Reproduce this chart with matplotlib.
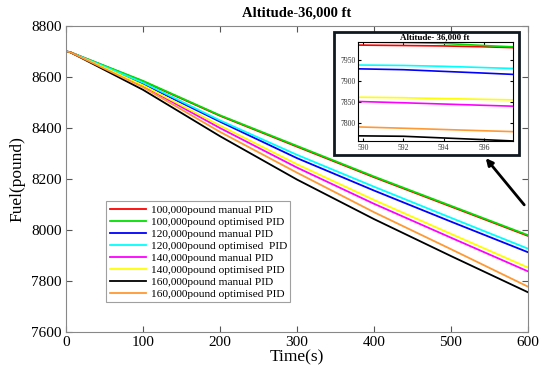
import matplotlib
matplotlib.use("Agg")
import matplotlib.pyplot as plt
from matplotlib.patches import Rectangle, FancyArrowPatch

plt.rcParams["font.family"] = ["Liberation Serif", "DejaVu Serif"]

# main plot data (fuel in pound vs time in s)
time_s = [0, 5, 100, 200, 300, 400, 500, 600]
fuel_100_manual = [8700, 8698, 8583, 8448, 8327, 8207, 8092, 7977]
fuel_100_opt = [8700, 8698, 8585, 8450, 8330, 8210, 8095, 7980]
fuel_120_manual = [8700, 8698, 8573, 8425, 8282, 8155, 8033, 7913]
fuel_120_opt = [8700, 8698, 8578, 8430, 8295, 8170, 8048, 7927]
fuel_140_manual = [8700, 8698, 8565, 8400, 8245, 8103, 7970, 7838]
fuel_140_opt = [8700, 8698, 8568, 8410, 8258, 8118, 7985, 7853]
fuel_160_manual = [8700, 8698, 8550, 8368, 8198, 8043, 7898, 7756]
fuel_160_opt = [8700, 8698, 8560, 8385, 8225, 8070, 7925, 7778]

# zoomed inset data
time_zoom = [589.8, 592, 594, 596, 597.4]
zoom_100_manual = [7984, 7983, 7982, 7980, 7978]
zoom_100_opt = [7991, 7990, 7988, 7983, 7980]
zoom_120_manual = [7928, 7926, 7922, 7918, 7915]
zoom_120_opt = [7937, 7936, 7934, 7931, 7929]
zoom_140_manual = [7851, 7848, 7845, 7842, 7840]
zoom_140_opt = [7861, 7860, 7858, 7856, 7855]
zoom_160_manual = [7770, 7769, 7765, 7761, 7758]
zoom_160_opt = [7791, 7788, 7785, 7782, 7780]

labels = [
    "100,000pound manual PID",
    "100,000pound optimised PID",
    "120,000pound manual PID",
    "120,000pound optimised  PID",
    "140,000pound manual PID",
    "140,000pound optimised PID",
    "160,000pound manual PID",
    "160,000pound optimised PID",
]
colors = ["#ff0000", "#00e000", "#0000ff", "#00ffff",
          "#ff00ff", "#ffff00", "#000000", "#ff9933"]

main_series = [fuel_100_manual, fuel_100_opt, fuel_120_manual, fuel_120_opt,
               fuel_140_manual, fuel_140_opt, fuel_160_manual, fuel_160_opt]
zoom_series = [zoom_100_manual, zoom_100_opt, zoom_120_manual, zoom_120_opt,
               zoom_140_manual, zoom_140_opt, zoom_160_manual, zoom_160_opt]

fig = plt.figure(figsize=(5.5, 3.83), dpi=100)
ax = fig.add_axes([0.12, 0.133, 0.84, 0.799])

for y, lab, c in zip(main_series, labels, colors):
    ax.plot(time_s, y, color=c, lw=1.3, label=lab)

ax.set_xlim(0, 600)
ax.set_ylim(7600, 8800)
ax.set_xticks([0, 100, 200, 300, 400, 500, 600])
ax.set_yticks([7600, 7800, 8000, 8200, 8400, 8600, 8800])
ax.tick_params(direction="in", top=True, right=True, labelsize=11,
               color="#555555", length=4, pad=3)
for sp in ax.spines.values():
    sp.set_color("#888888")
ax.set_xlabel("Time(s)", fontsize=12.5, labelpad=0)
ax.set_ylabel("Fuel(pound)", fontsize=12.5, labelpad=4)
ax.set_title("Altitude-36,000 ft", fontsize=10.5, fontweight="bold", pad=7)

leg = ax.legend(loc="upper left", bbox_to_anchor=(0.087, 0.427), fontsize=8.2,
                frameon=True, fancybox=False, handlelength=3.2,
                handletextpad=0.4, borderpad=0.3, labelspacing=0.18,
                borderaxespad=0)
leg.get_frame().set_edgecolor("#888888")
leg.get_frame().set_linewidth(0.8)

# inset frame and zoomed axes
fig.patches.append(Rectangle((0.607, 0.595), 0.336, 0.321, transform=fig.transFigure,
                             facecolor="white", edgecolor="#101820", lw=2, zorder=3))
ins = fig.add_axes([0.651, 0.632, 0.282, 0.258], zorder=4)
for y, c in zip(zoom_series, colors):
    ins.plot(time_zoom, y, color=c, lw=1.2)
ins.set_xlim(589.75, 597.44)
ins.set_ylim(7758, 7991)
ins.set_xticks([590, 592, 594, 596])
ins.set_yticks([7800, 7850, 7900, 7950])
ins.tick_params(direction="in", labelsize=5.5, length=2, labelcolor="#333333",
                top=True, right=True, pad=2)
for sp in ins.spines.values():
    sp.set_linewidth(0.8)
fig.text(0.79, 0.902, "Altitude- 36,000 ft", fontsize=6.5, fontweight="bold",
         ha="center", va="center", zorder=5)

# arrow pointing from the end of the lines to the inset
fig.add_artist(FancyArrowPatch(
    (526 / 550, 1 - 207 / 383), (484 / 550, 1 - 156 / 383),
    transform=fig.transFigure, arrowstyle="-|>", mutation_scale=10,
    color="black", lw=2, zorder=6))

fig.savefig("out.png", dpi=100)
